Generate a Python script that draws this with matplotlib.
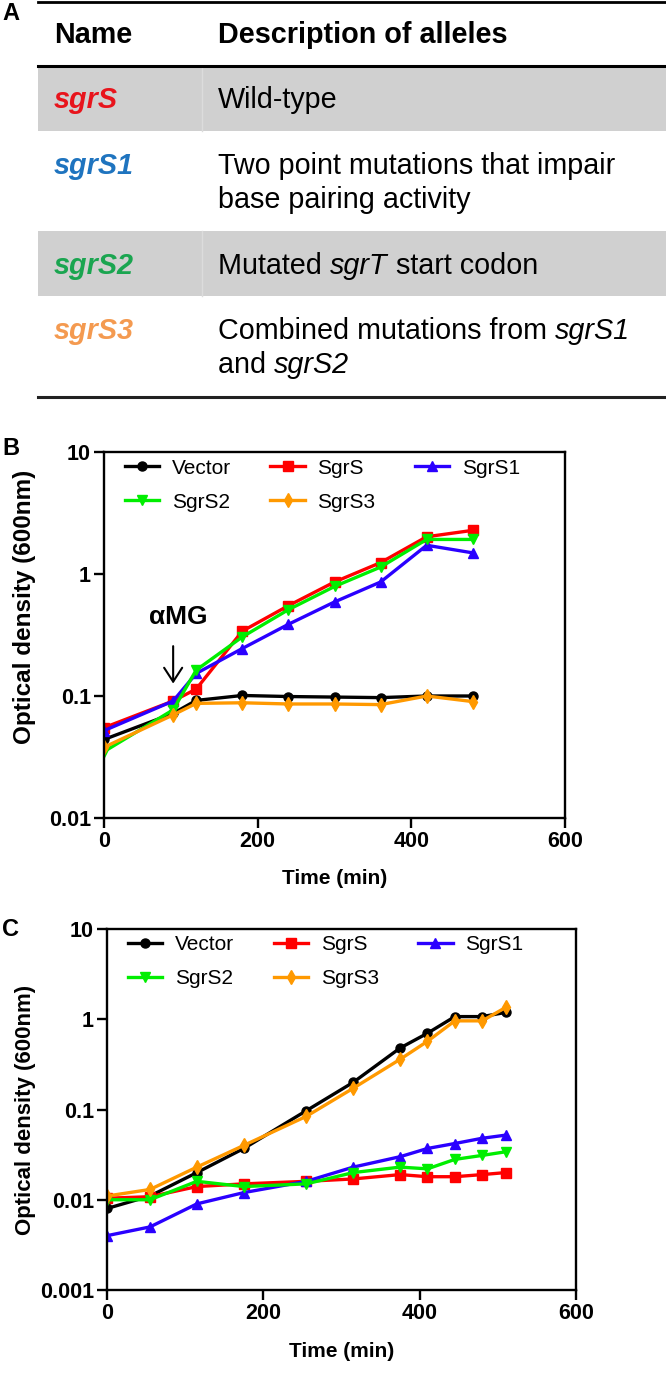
import matplotlib
matplotlib.use("Agg")
import matplotlib.pyplot as plt
from matplotlib.patches import Rectangle

plt.rcParams['font.family'] = ['Liberation Sans', 'DejaVu Sans']

# table (panel A)
allele_names = ['sgrS', 'sgrS1', 'sgrS2', 'sgrS3']
allele_colors = ['#e8141c', '#1f74bf', '#1aa550', '#f49a50']
# each description line is a list of (text, italic) pieces
allele_desc = [
    [[('Wild-type', False)]],
    [[('Two point mutations that impair', False)], [('base pairing activity', False)]],
    [[('Mutated ', False), ('sgrT', True), (' start codon', False)]],
    [[('Combined mutations from ', False), ('sgrS1', True)],
     [('and ', False), ('sgrS2', True)]],
]

# growth curves
series = ['Vector', 'SgrS', 'SgrS1', 'SgrS2', 'SgrS3']
colors = ['#000000', '#ff0000', '#2a00ff', '#00ee00', '#ff9900']
markers = ['o', 's', '^', 'v', 'd']
msizes = [6.5, 7, 7, 7, 7]

timeB = [0, 90, 120, 180, 240, 300, 360, 420, 480]
odB = [
    [0.044, 0.072, 0.092, 0.101, 0.099, 0.098, 0.097, 0.100, 0.100],
    [0.055, 0.091, 0.114, 0.34, 0.55, 0.86, 1.24, 2.02, 2.28],
    [0.052, 0.091, 0.153, 0.245, 0.387, 0.59, 0.86, 1.72, 1.49],
    [0.035, 0.077, 0.163, 0.305, 0.51, 0.79, 1.14, 1.92, 1.92],
    [0.038, 0.070, 0.087, 0.088, 0.086, 0.086, 0.085, 0.100, 0.090],
]

timeC = [0, 55, 115, 175, 255, 315, 375, 410, 445, 480, 510]
odC = [
    [0.008, 0.011, 0.020, 0.037, 0.097, 0.20, 0.48, 0.70, 1.07, 1.07, 1.19],
    [0.0104, 0.0108, 0.014, 0.015, 0.016, 0.017, 0.019, 0.018, 0.018, 0.019, 0.020],
    [0.004, 0.005, 0.009, 0.012, 0.016, 0.023, 0.030, 0.037, 0.042, 0.048, 0.052],
    [0.010, 0.010, 0.016, 0.014, 0.015, 0.020, 0.023, 0.022, 0.028, 0.031, 0.034],
    [0.011, 0.013, 0.023, 0.040, 0.084, 0.172, 0.36, 0.57, 0.96, 0.96, 1.35],
]

W, H = 666, 1380
fig = plt.figure(figsize=(W / 100, H / 100), dpi=100)
renderer = fig.canvas.get_renderer()

# ---- panel A: table drawn in pixel coords
tax = fig.add_axes([0, 1 - 400 / H, 1, 400 / H])
tax.set_xlim(0, W)
tax.set_ylim(400, 0)
tax.axis('off')

for y0, y1 in [(66, 131), (231, 296)]:
    tax.add_patch(Rectangle((38, y0), W - 38, y1 - y0, color='#d0d0d0', lw=0))
    tax.plot([202, 202], [y0, y1], color='#dcdcdc', lw=1)
tax.plot([38, W], [2, 2], color='black', lw=2)
tax.plot([38, W], [66, 66], color='black', lw=2.2)
tax.plot([38, W], [397, 397], color='#222222', lw=2.2)

tfs = 20.7
tax.text(54, 35, 'Name', fontsize=tfs, fontweight='bold', va='center')
tax.text(218, 35, 'Description of alleles', fontsize=tfs, fontweight='bold', va='center')
row_y = [[100], [166, 200], [266], [331, 365]]
for name, col, desc, ys in zip(allele_names, allele_colors, allele_desc, row_y):
    tax.text(54, ys[0], name, fontsize=tfs, fontweight='bold', style='italic',
             color=col, va='center')
    for pieces, y in zip(desc, ys):
        x = 218
        for s, it in pieces:
            t = tax.text(x, y, s, fontsize=tfs, va='center',
                         style='italic' if it else 'normal')
            x += t.get_window_extent(renderer).width


def growth_panel(rect, time, od, ymin, yticks, ylabels, ylab_size):
    ax = fig.add_axes(rect)
    lines = []
    for i in range(len(series)):
        ln, = ax.plot(time, od[i], color=colors[i], marker=markers[i], ms=msizes[i],
                      lw=2.4, label=series[i])
        lines.append(ln)
    ax.set_yscale('log')
    ax.set_ylim(ymin, 10)
    ax.set_xlim(0, 600)
    ax.set_xticks([0, 200, 400, 600])
    ax.set_yticks(yticks)
    ax.set_yticklabels(ylabels)
    ax.minorticks_off()
    for s in ax.spines.values():
        s.set_linewidth(1.7)
    ax.tick_params(axis='both', direction='out', length=7, width=1.7,
                   labelsize=15.5, pad=2.5)
    for lab in ax.get_xticklabels() + ax.get_yticklabels():
        lab.set_fontweight('bold')
    ax.set_xlabel('Time (min)', fontsize=15, fontweight='bold')
    ax.set_ylabel('Optical density (600nm)', fontsize=ylab_size, fontweight='bold')
    # legend filled row by row: Vector SgrS SgrS1 / SgrS2 SgrS3
    order = [0, 3, 1, 4, 2]
    ax.legend([lines[k] for k in order], [series[k] for k in order],
              ncol=3, loc='upper left', bbox_to_anchor=(0.045, 0.982),
              frameon=False, fontsize=15, handlelength=1.65, handletextpad=0.6,
              columnspacing=1.9, labelspacing=0.72, borderpad=0, borderaxespad=0)
    return ax


axB = growth_panel([104 / W, 1 - 818 / H, 461 / W, 366 / H], timeB, odB, 0.01,
                   [0.01, 0.1, 1, 10], ['0.01', '0.1', '1', '10'], 17.5)
axB.yaxis.set_label_coords(-0.148, 0.577)
axB.xaxis.set_label_coords(0.5, -0.139)
axB.annotate('', xy=(90, 0.12), xytext=(90, 0.27),
             arrowprops=dict(arrowstyle='->,head_length=1.0,head_width=0.65',
                             color='black', lw=1.5))
axB.text(96, 0.44, 'αMG', fontsize=19, fontweight='bold', ha='center', va='center')

axC = growth_panel([107 / W, 1 - 1290 / H, 469 / W, 361 / H], timeC, odC, 0.001,
                   [0.001, 0.01, 0.1, 1, 10], ['0.001', '0.01', '0.1', '1', '10'], 16)
axC.yaxis.set_label_coords(-0.151, 0.5)
axC.xaxis.set_label_coords(0.5, -0.144)

for lab, y in [('A', 14), ('B', 449), ('C', 929)]:
    fig.text(0.003, 1 - y / H, lab, fontsize=17, fontweight='bold', va='center')

fig.savefig('out.png', dpi=100)
